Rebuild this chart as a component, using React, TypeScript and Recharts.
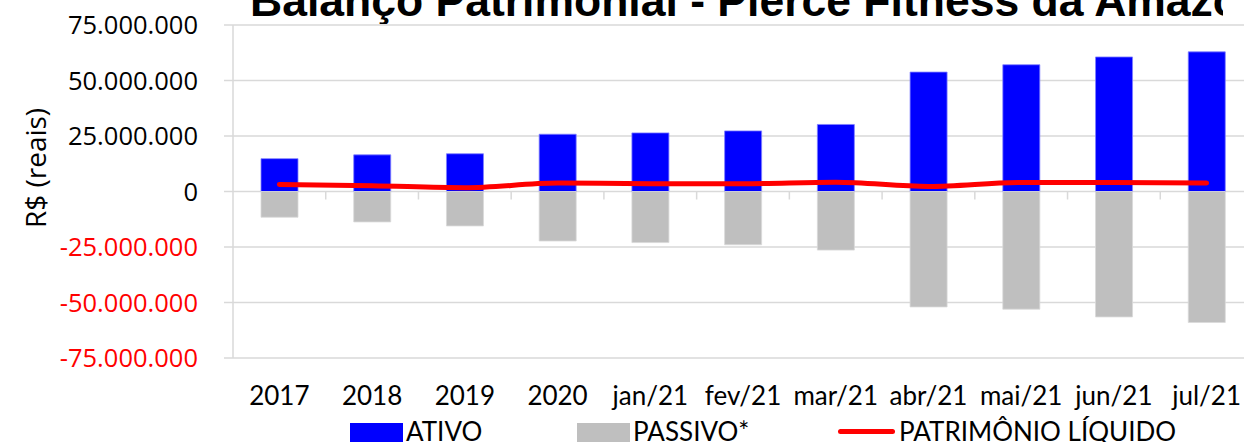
import React from 'react';
import {
  ComposedChart, Bar, Line, XAxis, YAxis, CartesianGrid, ReferenceLine, Legend
} from 'recharts';

const categories = ['2017', '2018', '2019', '2020', 'jan/21', 'fev/21', 'mar/21', 'abr/21', 'mai/21', 'jun/21', 'jul/21'];
const ativo = [14800000, 16500000, 17000000, 25800000, 26400000, 27300000, 30200000, 53800000, 57100000, 60600000, 62900000];
const passivo = [-11600000, -13700000, -15500000, -22300000, -23000000, -24000000, -26400000, -52000000, -53000000, -56500000, -59000000];
const patrimonio = [3200000, 2600000, 1700000, 3800000, 3500000, 3500000, 4200000, 2300000, 4100000, 4100000, 3800000];
const yTicks = [-75000000, -50000000, -25000000, 0, 25000000, 50000000, 75000000];

const data = categories.map((c, i) => ({
  name: c,
  ativo: ativo[i],
  passivo: passivo[i],
  pl: patrimonio[i],
}));

const fmt = (v: number) => {
  const s = Math.abs(v).toString().replace(/\B(?=(\d{3})+(?!\d))/g, '.');
  return v < 0 ? '-' + s : s;
};

const GRID = '#d9d9d9';
const LABEL_FONT = 'Lato';

const YTick = ({ x, y, payload }: any) => (
  <text
    x={x} y={y} dy="0.355em" textAnchor="end"
    fill={payload.value < 0 ? '#FF0000' : '#000000'}
    fontSize={25.5} fontFamily="Open Sans"
  >
    {fmt(payload.value)}
  </text>
);

const YLabel = () => (
  <text
    x={35} y={168} textAnchor="middle" dominantBaseline="central"
    transform="rotate(-90 35 168)" fontSize={28} fontFamily="Open Sans" fill="#000"
  >
    R$ (reais)
  </text>
);

const LegendContent = () => (
  <div style={{ position: 'relative', height: 30, width: 1244, fontFamily: LABEL_FONT, fontSize: 26, color: '#000' }}>
    <div style={{ position: 'absolute', left: 350, top: 11, width: 53, height: 25, background: '#0000FF' }} />
    <span style={{ position: 'absolute', left: 406, top: 4, lineHeight: '30px' }}>ATIVO</span>
    <div style={{ position: 'absolute', left: 577, top: 11, width: 53, height: 25, background: '#BFBFBF' }} />
    <span style={{ position: 'absolute', left: 633, top: 4, lineHeight: '30px' }}>PASSIVO*</span>
    <div style={{ position: 'absolute', left: 838, top: 17, width: 57, height: 4.5, borderRadius: 3, background: '#FF0000' }} />
    <span style={{ position: 'absolute', left: 899, top: 4, lineHeight: '30px' }}>PATRIMÔNIO LÍQUIDO</span>
  </div>
);

export default function App() {
  return (
    <div style={{ position: 'absolute', left: 0, top: 0, width: 1244, height: 442, overflow: 'hidden', background: '#fff' }}>
      <div style={{ position: 'absolute', left: 0, top: 0, width: 1223, height: 24, overflow: 'hidden' }}>
        <svg width={1223} height={24}>
          <text x={250} y={16} fontSize={44.5} fontWeight="bold" fontFamily="Liberation Sans" fill="#000">
            Balanço Patrimonial - Pierce Fitness da Amazônia
          </text>
        </svg>
      </div>
      <ComposedChart
        width={1262}
        height={442}
        data={data}
        stackOffset="sign"
        margin={{ top: 25, right: 9, left: 0, bottom: 0 }}
        style={{ position: 'absolute', left: 0, top: 0 }}
      >
        <CartesianGrid vertical={false} stroke={GRID} strokeWidth={1.5} />
        <XAxis
          dataKey="name"
          height={54}
          axisLine={false}
          tickLine={false}
          tickSize={0}
          tickMargin={29}
          interval={0}
          tick={{ fill: '#000', fontSize: 26, fontFamily: LABEL_FONT }}
        />
        <YAxis
          width={233}
          domain={[-75000000, 75000000]}
          ticks={yTicks}
          interval={0}
          axisLine={{ stroke: GRID, strokeWidth: 1.5 }}
          tickLine={{ stroke: GRID, strokeWidth: 1.5 }}
          tickSize={9}
          tickMargin={26}
          tick={<YTick />}
          label={<YLabel />}
        />
        {categories.slice(1).map((c) => (
          <ReferenceLine
            key={c}
            position="start"
            segment={[{ x: c, y: 0 }, { x: c, y: -3600000 }]}
            stroke={GRID}
            strokeWidth={1.5}
          />
        ))}
        <Bar dataKey="ativo" stackId="a" fill="#0000FF" stroke="#8080ff" strokeWidth={0.8} barSize={37} isAnimationActive={false} />
        <Bar dataKey="passivo" stackId="a" fill="#BFBFBF" stroke="#d9d9d9" strokeWidth={0.8} barSize={37} isAnimationActive={false} />
        <Line
          dataKey="pl"
          type="monotone"
          stroke="#FF0000"
          strokeWidth={5}
          strokeLinecap="round"
          dot={false}
          activeDot={false}
          isAnimationActive={false}
        />
        <Legend verticalAlign="bottom" wrapperStyle={{ left: 0, width: 1244 }} content={<LegendContent />} />
      </ComposedChart>
    </div>
  );
}
